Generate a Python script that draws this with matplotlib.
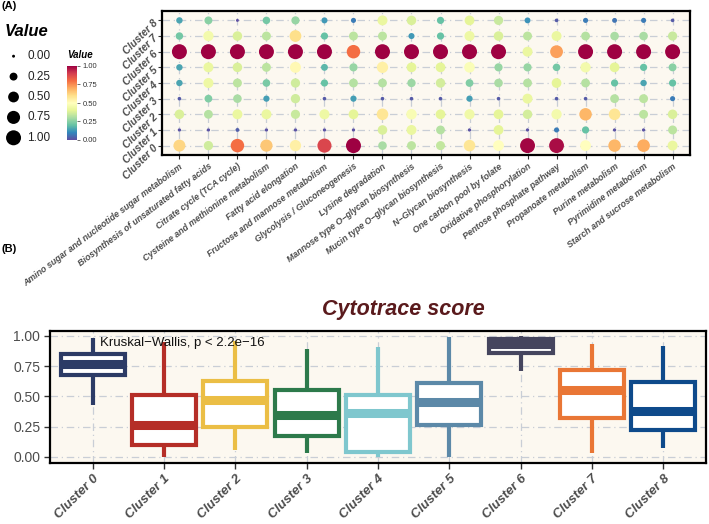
import numpy as np
import matplotlib
matplotlib.use("Agg")
import matplotlib.pyplot as plt
from matplotlib.colors import Normalize

plt.rcParams['font.family'] = ['Liberation Sans', 'DejaVu Sans']

pathways = [
    "Amino sugar and nucleotide sugar metabolism",
    "Biosynthesis of unsaturated fatty acids",
    "Citrate cycle (TCA cycle)",
    "Cysteine and methionine metabolism",
    "Fatty acid elongation",
    "Fructose and mannose metabolism",
    "Glycolysis / Gluconeogenesis",
    "Lysine degradation",
    "Mannose type O\u2212glycan biosynthesis",
    "Mucin type O\u2212glycan biosynthesis",
    "N\u2212Glycan biosynthesis",
    "One carbon pool by folate",
    "Oxidative phosphorylation",
    "Pentose phosphate pathway",
    "Propanoate metabolism",
    "Purine metabolism",
    "Pyrimidine metabolism",
    "Starch and sucrose metabolism",
]
clusters = ["Cluster 0", "Cluster 1", "Cluster 2", "Cluster 3", "Cluster 4",
            "Cluster 5", "Cluster 6", "Cluster 7", "Cluster 8"]

# values per cluster (rows) across pathways (columns)
val_c0 = [0.62, 0.36, 0.80, 0.65, 0.55, 0.88, 1.00, 0.30, 0.33, 0.34, 0.58, 0.50, 0.99, 0.98, 0.50, 0.68, 0.70, 0.42]
val_c1 = [0.01, 0.01, 0.03, 0.01, 0.01, 0.01, 0.01, 0.38, 0.42, 0.32, 0.01, 0.40, 0.01, 0.08, 0.20, 0.01, 0.01, 0.33]
val_c2 = [0.38, 0.32, 0.42, 0.42, 0.35, 0.43, 0.40, 0.58, 0.47, 0.40, 0.44, 0.40, 0.37, 0.45, 0.68, 0.58, 0.33, 0.38]
val_c3 = [0.02, 0.24, 0.30, 0.14, 0.36, 0.02, 0.14, 0.02, 0.02, 0.02, 0.14, 0.02, 0.42, 0.02, 0.02, 0.32, 0.33, 0.08]
val_c4 = [0.15, 0.43, 0.33, 0.23, 0.36, 0.20, 0.32, 0.32, 0.28, 0.37, 0.24, 0.30, 0.32, 0.40, 0.32, 0.20, 0.15, 0.20]
val_c5 = [0.15, 0.42, 0.38, 0.33, 0.52, 0.18, 0.27, 0.55, 0.40, 0.40, 0.48, 0.27, 0.27, 0.22, 0.45, 0.40, 0.20, 0.25]
val_c6 = [1.00, 1.00, 1.00, 1.00, 1.00, 1.00, 0.80, 1.00, 1.00, 1.00, 1.00, 1.00, 0.42, 0.72, 1.00, 1.00, 1.00, 1.00]
val_c7 = [0.22, 0.45, 0.38, 0.33, 0.60, 0.20, 0.33, 0.33, 0.13, 0.20, 0.43, 0.38, 0.33, 0.42, 0.32, 0.30, 0.30, 0.35]
val_c8 = [0.15, 0.25, 0.00, 0.22, 0.27, 0.13, 0.08, 0.42, 0.38, 0.20, 0.40, 0.35, 0.12, 0.02, 0.08, 0.07, 0.08, 0.02]
dot_values = [val_c0, val_c1, val_c2, val_c3, val_c4, val_c5, val_c6, val_c7, val_c8]

legend_values = [0.00, 0.25, 0.50, 0.75, 1.00]
legend_labels = ["0.00", "0.25", "0.50", "0.75", "1.00"]

# Panel B box statistics: (whislo, q1, med, q3, whishi)
box_clusters = clusters
box_whislo = [0.43, 0.00, 0.06, 0.03, 0.00, 0.00, 0.71, 0.03, 0.07]
box_q1     = [0.68, 0.10, 0.25, 0.17, 0.04, 0.26, 0.86, 0.32, 0.22]
box_med    = [0.77, 0.26, 0.47, 0.35, 0.36, 0.45, 0.93, 0.55, 0.38]
box_q3     = [0.85, 0.51, 0.63, 0.55, 0.51, 0.61, 0.975, 0.72, 0.62]
box_whishi = [0.98, 0.95, 0.96, 0.89, 0.91, 0.99, 1.00, 0.93, 0.92]
box_colors = ["#2C3B66", "#B52E27", "#EBBE45", "#2D7A4B", "#7FC7CE",
              "#5C89A8", "#45455E", "#E97635", "#0E4A8B"]

W, H = 709, 524
fig = plt.figure(figsize=(W / 100, H / 100), dpi=100)

def fx(px):
    return px / W

def fy(py):
    return 1 - py / H

bg = "#FCF8F0"
gridc = "#C9CED6"
tickc = "#4D4D4D"
cmap = plt.get_cmap("Spectral_r")
norm = Normalize(0, 1)

def size_of(v):
    return 4.5 + 112 * np.asarray(v)

# ---------------- Panel A ----------------
axA = fig.add_axes([fx(162), fy(155), fx(690) - fx(162), fy(11) - fy(155)])
axA.set_facecolor(bg)
nP, nC = len(pathways), len(clusters)
for j in range(nC):
    axA.axhline(j, color=gridc, lw=0.9, ls=(0, (6, 3, 1, 3)), zorder=0)
for i in range(nP):
    axA.axvline(i, color=gridc, lw=0.9, ls=(0, (6, 3, 1, 3)), zorder=0)
xs, ys, vs = [], [], []
for j, row in enumerate(dot_values):
    for i, v in enumerate(row):
        xs.append(i); ys.append(j); vs.append(v)
vs = np.array(vs)
axA.scatter(xs, ys, s=size_of(vs), c=vs, cmap=cmap, norm=norm, edgecolors='none', zorder=3)
axA.set_xlim(-0.6, nP - 0.4)
axA.set_ylim(-0.6, nC - 0.4)
axA.set_xticks(range(nP))
axA.set_xticklabels(pathways, rotation=37, ha='right', rotation_mode='anchor',
                    fontsize=6.4, fontweight='bold', fontstyle='italic', color=tickc)
axA.set_yticks(range(nC))
axA.set_yticklabels(clusters, rotation=45, ha='right', rotation_mode='anchor',
                    fontsize=7.5, fontweight='bold', fontstyle='italic', color=tickc)
axA.tick_params(length=3, width=0.8, color='#333333', pad=2)
for sp in axA.spines.values():
    sp.set_linewidth(1.6)
    sp.set_color('black')

# size legend
fig.text(fx(5), fy(31), "Value", fontsize=12, fontweight='bold', fontstyle='italic', va='center', ha='left')
axL = fig.add_axes([fx(2), fy(148), fx(60), fy(46) - fy(148)])
axL.set_axis_off()
ly = np.arange(len(legend_values))[::-1]
axL.scatter([0.25] * len(legend_values), ly, s=size_of(legend_values), c='black', edgecolors='none')
for yy, lab in zip(ly, legend_labels):
    axL.text(0.55, yy, lab, fontsize=8.5, va='center', ha='left', color='#222222')
axL.set_xlim(0, 1.3)
axL.set_ylim(-0.5, len(legend_values) - 0.5)

# colorbar
cax = fig.add_axes([fx(67), fy(140), fx(10), fy(66) - fy(140)])
sm = matplotlib.cm.ScalarMappable(norm=norm, cmap=cmap)
cb = fig.colorbar(sm, cax=cax, ticks=legend_values)
cb.ax.set_yticklabels(legend_labels)
cb.ax.tick_params(labelsize=5.5, length=2, width=0.5, colors='#333333', pad=2)
cb.outline.set_visible(False)
fig.text(fx(67), fy(55), "Value", fontsize=7, fontweight='bold', fontstyle='italic', va='center', ha='left')

fig.text(fx(2), fy(6), "(A)", fontsize=8, fontweight='bold', va='center', ha='left')
fig.text(fx(2), fy(249), "(B)", fontsize=8, fontweight='bold', va='center', ha='left')

# ---------------- Panel B ----------------
axB = fig.add_axes([fx(50), fy(463), fx(706) - fx(50), fy(331) - fy(463)])
axB.set_facecolor(bg)
yt = [0.00, 0.25, 0.50, 0.75, 1.00]
for v in yt:
    axB.axhline(v, color=gridc, lw=0.9, ls=(0, (6, 3, 1, 3)), zorder=0)
for i in range(len(box_clusters)):
    axB.axvline(i, color=gridc, lw=0.9, ls=(0, (6, 3, 1, 3)), zorder=0)

stats = []
for i, name in enumerate(box_clusters):
    stats.append(dict(label=name, whislo=box_whislo[i], q1=box_q1[i], med=box_med[i],
                      q3=box_q3[i], whishi=box_whishi[i], fliers=[]))
bp = axB.bxp(stats, positions=range(len(box_clusters)), widths=0.9, patch_artist=True,
             showfliers=False, showcaps=False)
for i, c in enumerate(box_colors):
    bp['boxes'][i].set(facecolor='white', edgecolor=c, linewidth=3.0, zorder=3)
    bp['medians'][i].set(color=c, linewidth=6.5, solid_capstyle='butt', zorder=4)
    for w in bp['whiskers'][2 * i:2 * i + 2]:
        w.set(color=c, linewidth=3.0, solid_capstyle='butt', zorder=2)

axB.set_xlim(-0.6, len(box_clusters) - 0.4)
axB.set_ylim(-0.05, 1.04)
axB.set_yticks(yt)
axB.set_yticklabels(["0.00", "0.25", "0.50", "0.75", "1.00"], fontsize=10, color=tickc)
axB.set_xticks(range(len(box_clusters)))
axB.set_xticklabels(box_clusters, rotation=45, ha='right', rotation_mode='anchor',
                    fontsize=9.5, fontweight='bold', fontstyle='italic', color=tickc)
axB.tick_params(length=4, width=1.0, color='#333333', pad=3)
for sp in axB.spines.values():
    sp.set_linewidth(1.6)
    sp.set_color('black')
axB.text(0.076, 0.91, "Kruskal\u2212Wallis, p < 2.2e\u221216", transform=axB.transAxes,
         fontsize=9.5, va='center', ha='left', color='#111111')
fig.text(fx(403), fy(309), "Cytotrace score", fontsize=15.5, fontweight='bold', fontstyle='italic',
         color='#5A1A1C', ha='center', va='center')

fig.savefig("out.png", dpi=100)
